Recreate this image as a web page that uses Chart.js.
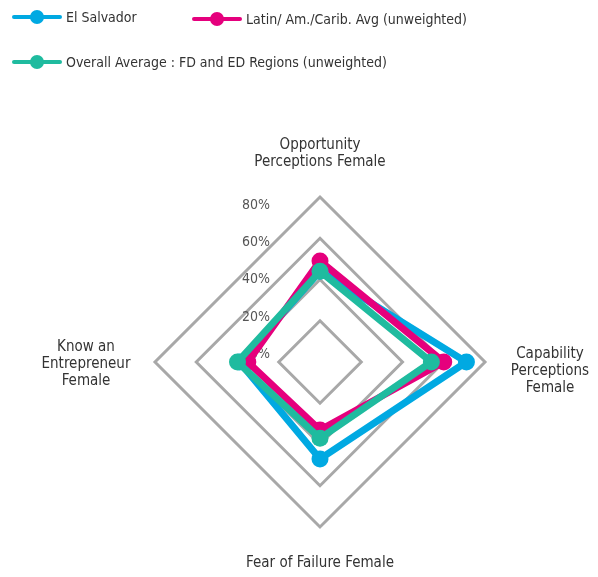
<!DOCTYPE html>
<html>
<head>
<meta charset="utf-8">
<script src="https://cdn.jsdelivr.net/npm/chart.js@4"></script>
<style>
  body { margin: 0; background: #fff; font-family: "Liberation Sans Narrow", "DejaVu Sans Condensed", sans-serif; }
  #wrap { position: relative; width: 598px; height: 577px; }
  #chart { position: absolute; left: 0; top: 0; }
  .lg { position: absolute; display: flex; align-items: center; font-size: 14px; color: #333; height: 20px; }
  .lg .sw { position: relative; width: 50px; height: 4px; margin-right: 4px; border-radius: 2px; }
  .lg .sw i { position: absolute; left: 18px; top: -5px; width: 14px; height: 14px; border-radius: 50%; background: inherit; }
</style>
</head>
<body>
<div id="wrap">
  <canvas id="chart" width="598" height="577"></canvas>
  <div id="legend"></div>
</div>
<script>
const categories = [
  ["Opportunity", "Perceptions Female"],
  ["Capability", "Perceptions", "Female"],
  ["Fear of Failure Female"],
  ["Know an", "Entrepreneur", "Female"]
];
const elSalvador = [44, 71, 47, 39];
const latinAvg = [49, 60, 33, 35];
const overallAvg = [44, 54, 37, 40];
const tickLabels = [0, 20, 40, 60, 80];

const seriesNames = ["El Salvador", "Latin/ Am./Carib. Avg (unweighted)", "Overall Average : FD and ED Regions (unweighted)"];
const seriesColors = ["#00a9e2", "#e5007d", "#1fbb9f"];

// legend (html)
const legendPos = [[12, 7], [192, 9], [12, 52]];
const legend = document.getElementById("legend");
seriesNames.forEach(function (name, i) {
  let d = document.createElement("div");
  d.className = "lg";
  d.style.left = legendPos[i][0] + "px";
  d.style.top = legendPos[i][1] + "px";
  d.innerHTML = '<span class="sw" style="background:' + seriesColors[i] + '"><i></i></span><span>' + name + '</span>';
  legend.appendChild(d);
});

const FONT = '"Liberation Sans Narrow", "DejaVu Sans Condensed", sans-serif';

// tick labels sit left of the vertical axis
const tickPlugin = {
  id: "tickText",
  beforeDatasetsDraw(chart) {
    const s = chart.scales.r, ctx = chart.ctx;
    ctx.save();
    ctx.font = "14px " + FONT;
    ctx.fillStyle = "#555";
    ctx.textAlign = "right";
    ctx.textBaseline = "middle";
    tickLabels.forEach(function (v) {
      const d = s.getDistanceFromCenterForValue(v);
      ctx.fillText(v + "%", s.xCenter - 50, s.yCenter - 0.9 * d - 8);
    });
    ctx.restore();
  }
};

// axis titles
const labelPlugin = {
  id: "axisText",
  afterDraw(chart) {
    const s = chart.scales.r, ctx = chart.ctx;
    const offs = [[0, -52], [65, -8], [0, 36], [-69, -15]];
    ctx.save();
    ctx.font = "15px " + FONT;
    ctx.fillStyle = "#333";
    ctx.textAlign = "center";
    ctx.textBaseline = "middle";
    categories.forEach(function (lines, i) {
      const p = s.getPointPositionForValue(i, s.max);
      lines.forEach(function (t, j) {
        ctx.fillText(t, p.x + offs[i][0], p.y + offs[i][1] + j * 17);
      });
    });
    ctx.restore();
  }
};

const allData = [elSalvador, latinAvg, overallAvg];
new Chart(document.getElementById("chart").getContext("2d"), {
  type: "radar",
  data: {
    labels: categories.map(function (c) { return c.join(" "); }),
    datasets: allData.map(function (vals, i) {
      return {
        label: seriesNames[i],
        data: vals,
        borderColor: seriesColors[i],
        backgroundColor: seriesColors[i],
        pointBackgroundColor: seriesColors[i],
        pointBorderColor: seriesColors[i],
        borderWidth: 7,
        pointRadius: 8.5,
        pointBorderWidth: 0,
        fill: false,
        order: 3 - i
      };
    })
  },
  options: {
    responsive: false,
    animation: false,
    layout: { padding: { left: 155, right: 113, top: 197, bottom: 50 } },
    plugins: { legend: { display: false }, tooltip: { enabled: false } },
    scales: {
      r: {
        min: 0,
        max: 80,
        ticks: { stepSize: 20, display: false },
        grid: { color: "#a8a8a8", lineWidth: 3 },
        angleLines: { display: false },
        pointLabels: { display: false }
      }
    }
  },
  plugins: [tickPlugin, labelPlugin]
});
</script>
</body>
</html>
